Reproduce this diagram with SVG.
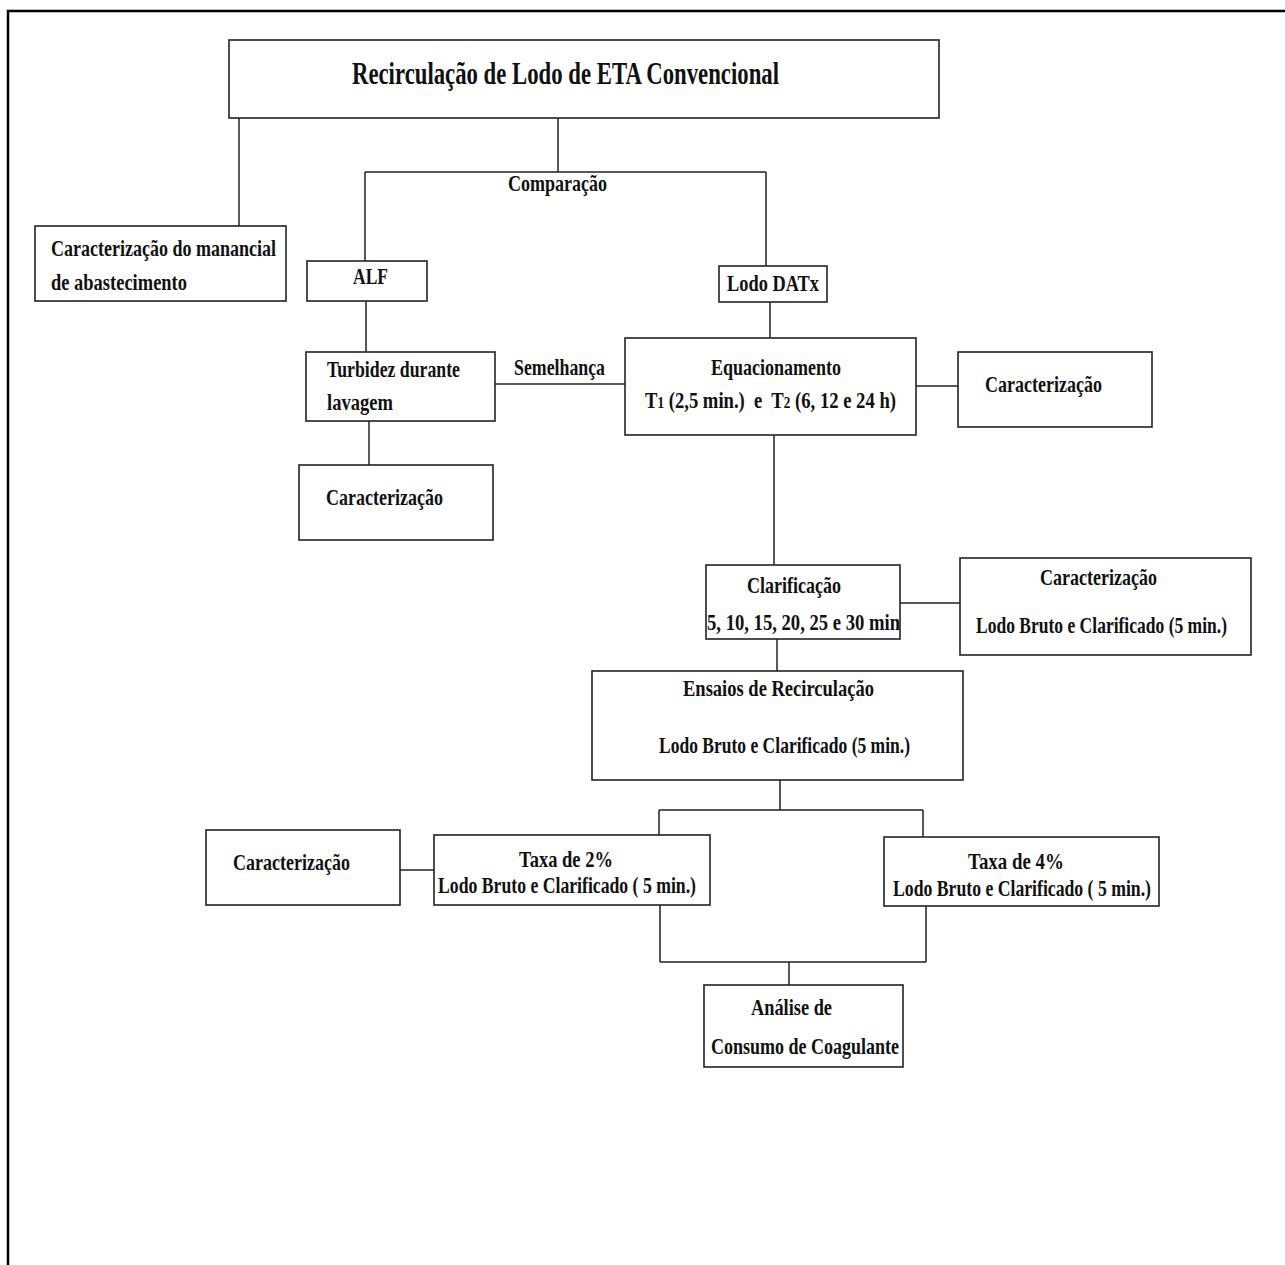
<svg xmlns="http://www.w3.org/2000/svg" width="1285" height="1265" viewBox="0 0 1285 1265">
<style>
.b{fill:#fff;stroke:#222;stroke-width:1.6}
.l{fill:none;stroke:#222;stroke-width:1.5}
text{font-family:"Liberation Serif","Times New Roman",serif;font-weight:bold;font-size:24px;fill:#111;stroke:none}
.t{font-size:31px}
.s{font-size:17px}
</style>
<rect width="1285" height="1265" fill="#fff"/>
<path d="M8 1265 V11 H1285" fill="none" stroke="#000" stroke-width="2.5"/>
<g id="connectors">
<path class="l" d="M239 118 V226"/>
<path class="l" d="M558 118 V172 M365 172 H766 M365 172 V261 M766 172 V266"/>
<path class="l" d="M366 301 V352"/>
<path class="l" d="M770 302 V338"/>
<path class="l" d="M495 384 H625"/>
<path class="l" d="M916 386 H958"/>
<path class="l" d="M369 421 V465"/>
<path class="l" d="M774 435 V565"/>
<path class="l" d="M900 603 H960"/>
<path class="l" d="M777 639 V671"/>
<path class="l" d="M780 780 V810 M659 810 H923 M659 810 V835 M923 810 V837"/>
<path class="l" d="M400 870 H434"/>
<path class="l" d="M660 905 V962 M926 906 V962 M660 962 H926 M789 962 V985"/>
<text x="508" y="191" textLength="99" lengthAdjust="spacingAndGlyphs">Comparação</text>
<text x="514" y="375" textLength="91" lengthAdjust="spacingAndGlyphs">Semelhança</text>
</g>
<g id="title"><rect class="b" x="229" y="40" width="710" height="78"/>
<text class="t" x="352" y="84" textLength="427" lengthAdjust="spacingAndGlyphs">Recirculação de Lodo de ETA Convencional</text></g>
<g id="manancial"><rect class="b" x="35" y="226" width="251" height="75"/>
<text x="51" y="256" textLength="225" lengthAdjust="spacingAndGlyphs">Caracterização do manancial</text>
<text x="51" y="290" textLength="136" lengthAdjust="spacingAndGlyphs">de abastecimento</text></g>
<g id="alf"><rect class="b" x="307" y="261" width="120" height="40"/>
<text x="353" y="284" textLength="35" lengthAdjust="spacingAndGlyphs">ALF</text></g>
<g id="datx"><rect class="b" x="719" y="266" width="108" height="36"/>
<text x="727" y="291" textLength="92" lengthAdjust="spacingAndGlyphs">Lodo DATx</text></g>
<g id="turbidez"><rect class="b" x="306" y="352" width="189" height="69"/>
<text x="327" y="377" textLength="133" lengthAdjust="spacingAndGlyphs">Turbidez durante</text>
<text x="327" y="410" textLength="66" lengthAdjust="spacingAndGlyphs">lavagem</text></g>
<g id="equacionamento"><rect class="b" x="625" y="338" width="291" height="97"/>
<text x="711" y="375" textLength="130" lengthAdjust="spacingAndGlyphs">Equacionamento</text>
<text x="645" y="408" textLength="251" lengthAdjust="spacingAndGlyphs" xml:space="preserve">T<tspan class="s">1</tspan> (2,5 min.)  e  T<tspan class="s">2</tspan> (6, 12 e 24 h)</text></g>
<g id="caract1"><rect class="b" x="958" y="352" width="194" height="75"/>
<text x="985" y="392" textLength="117" lengthAdjust="spacingAndGlyphs">Caracterização</text></g>
<g id="caract2"><rect class="b" x="299" y="465" width="194" height="75"/>
<text x="326" y="505" textLength="117" lengthAdjust="spacingAndGlyphs">Caracterização</text></g>
<g id="clarificacao"><rect class="b" x="706" y="565" width="194" height="74"/>
<text x="747" y="593" textLength="94" lengthAdjust="spacingAndGlyphs">Clarificação</text>
<text x="707" y="630" textLength="193" lengthAdjust="spacingAndGlyphs">5, 10, 15, 20, 25 e 30 min</text></g>
<g id="caract3"><rect class="b" x="960" y="558" width="291" height="97"/>
<text x="1040" y="585" textLength="117" lengthAdjust="spacingAndGlyphs">Caracterização</text>
<text x="976" y="633" textLength="251" lengthAdjust="spacingAndGlyphs">Lodo Bruto e Clarificado (5 min.)</text></g>
<g id="ensaios"><rect class="b" x="592" y="671" width="371" height="109"/>
<text x="683" y="696" textLength="191" lengthAdjust="spacingAndGlyphs">Ensaios de Recirculação</text>
<text x="659" y="753" textLength="251" lengthAdjust="spacingAndGlyphs">Lodo Bruto e Clarificado (5 min.)</text></g>
<g id="caract4"><rect class="b" x="206" y="830" width="194" height="75"/>
<text x="233" y="870" textLength="117" lengthAdjust="spacingAndGlyphs">Caracterização</text></g>
<g id="taxa2"><rect class="b" x="434" y="835" width="276" height="70"/>
<text x="519" y="867" textLength="94" lengthAdjust="spacingAndGlyphs">Taxa de 2%</text>
<text x="438" y="893" textLength="258" lengthAdjust="spacingAndGlyphs">Lodo Bruto e Clarificado ( 5 min.)</text></g>
<g id="taxa4"><rect class="b" x="884" y="837" width="275" height="69"/>
<text x="968" y="869" textLength="96" lengthAdjust="spacingAndGlyphs">Taxa de 4%</text>
<text x="893" y="896" textLength="258" lengthAdjust="spacingAndGlyphs">Lodo Bruto e Clarificado ( 5 min.)</text></g>
<g id="analise"><rect class="b" x="704" y="985" width="199" height="82"/>
<text x="751" y="1015" textLength="81" lengthAdjust="spacingAndGlyphs">Análise de</text>
<text x="711" y="1054" textLength="188" lengthAdjust="spacingAndGlyphs">Consumo de Coagulante</text></g>
</svg>
